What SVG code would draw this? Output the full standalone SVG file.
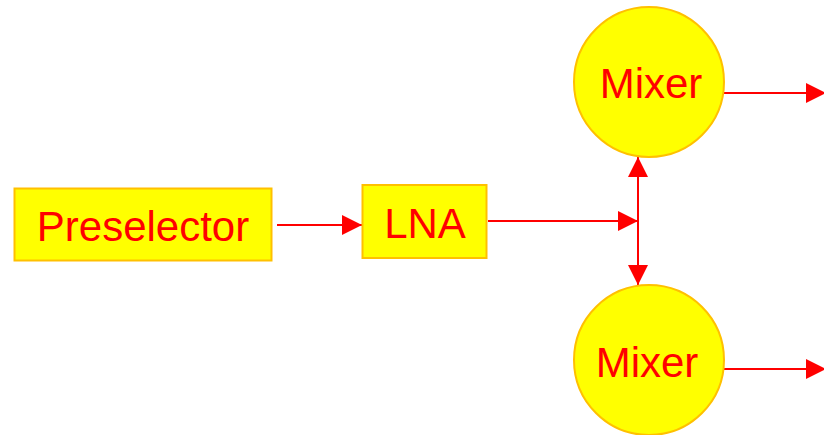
<svg xmlns="http://www.w3.org/2000/svg" width="824" height="435" viewBox="0 0 824 435">
  <style>
    .block { fill: #FFFF00; stroke: #FFC000; stroke-width: 2; }
    .label { font-family: "Liberation Sans", Arial, sans-serif; font-size: 42px; fill: #FF0000; text-anchor: middle; }
    .wire { stroke: #FF0000; stroke-width: 2; fill: none; }
  </style>
  <defs>
    <marker id="head" viewBox="0 0 20 20" refX="20" refY="10" markerWidth="20" markerHeight="20" markerUnits="userSpaceOnUse" orient="auto-start-reverse">
      <path d="M0,0 L20,10 L0,20 Z" fill="#FF0000"/>
    </marker>
  </defs>
  <rect width="824" height="435" fill="#FFFFFF"/>

  <g id="connectors">
    <line class="wire" x1="277" y1="225" x2="362" y2="225" marker-end="url(#head)"/>
    <line class="wire" x1="488" y1="221" x2="638" y2="221" marker-end="url(#head)"/>
    <line class="wire" x1="638" y1="157" x2="638" y2="285" marker-start="url(#head)" marker-end="url(#head)"/>
    <line class="wire" x1="724" y1="93" x2="826" y2="93" marker-end="url(#head)"/>
    <line class="wire" x1="724" y1="369" x2="826" y2="369" marker-end="url(#head)"/>
  </g>

  <g id="preselector">
    <rect class="block" x="14.5" y="188.5" width="257" height="72"/>
    <text class="label" x="143" y="241">Preselector</text>
  </g>

  <g id="lna">
    <rect class="block" x="362.5" y="185" width="124" height="73"/>
    <text class="label" x="425" y="238">LNA</text>
  </g>

  <g id="mixer-top">
    <circle class="block" cx="649" cy="82" r="75"/>
    <text class="label" x="651" y="98">Mixer</text>
  </g>

  <g id="mixer-bottom">
    <circle class="block" cx="649" cy="360" r="75"/>
    <text class="label" x="647" y="377">Mixer</text>
  </g>
</svg>
